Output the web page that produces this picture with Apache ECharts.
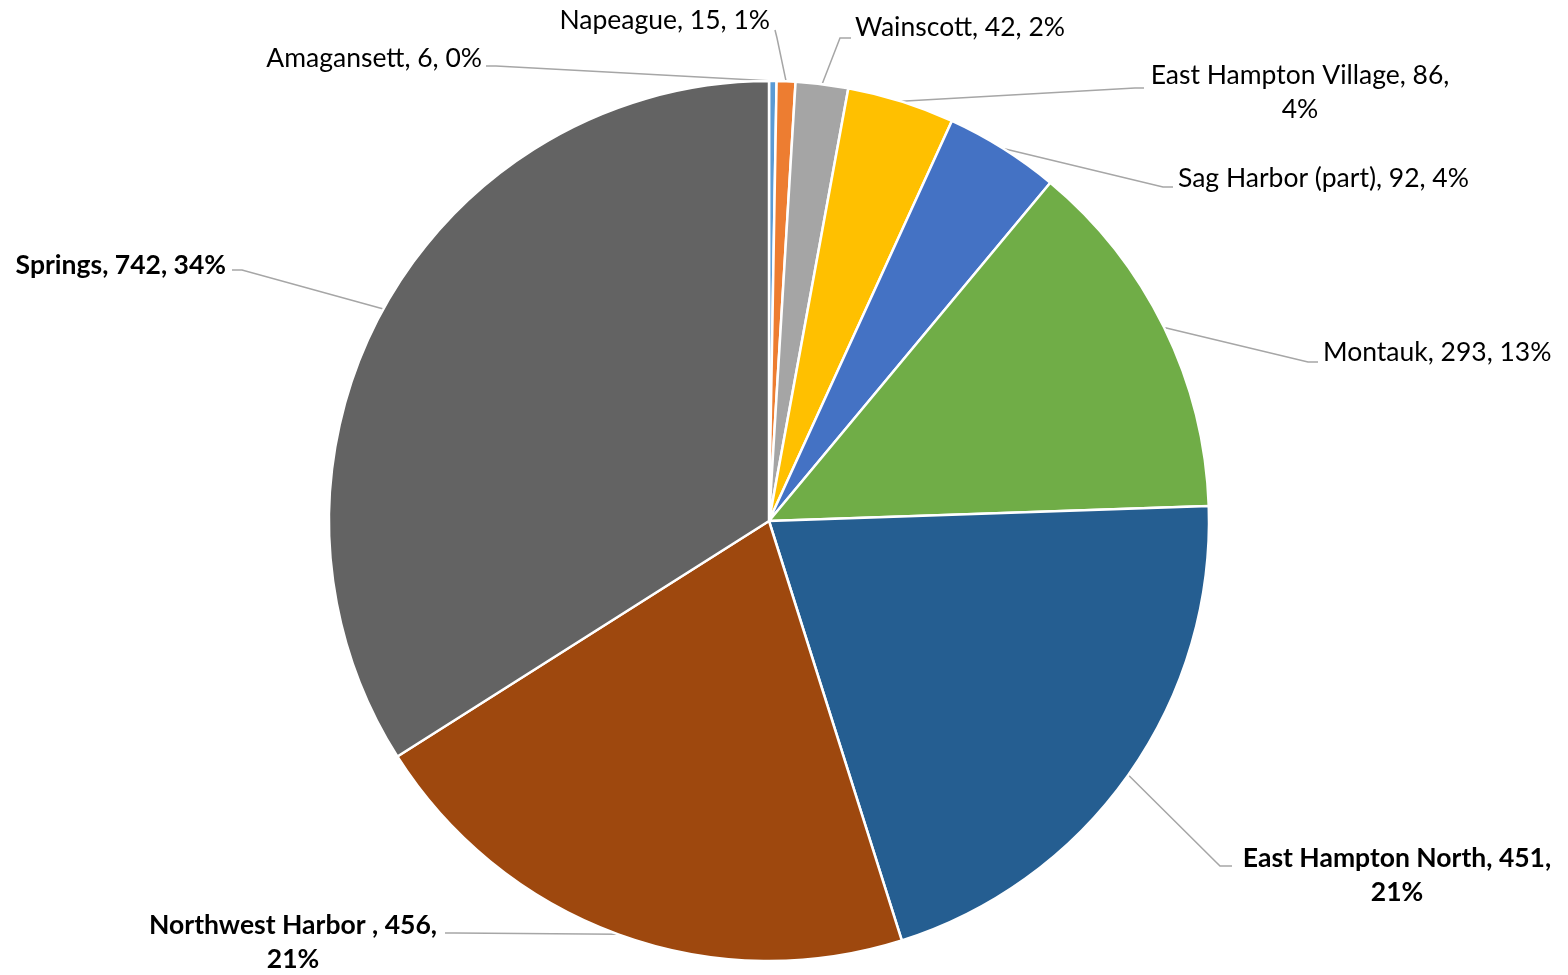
<!DOCTYPE html>
<html>
<head>
<meta charset="utf-8">
<script src="https://cdn.jsdelivr.net/npm/echarts@6/dist/echarts.min.js"></script>
<style>
html,body{margin:0;padding:0;background:#fff;}
#chart{width:1568px;height:975px;}
</style>
</head>
<body>
<div id="chart"></div>
<script>
const categories = ['Amagansett', 'Napeague', 'Wainscott', 'East Hampton Village', 'Sag Harbor (part)', 'Montauk', 'East Hampton North', 'Northwest Harbor ', 'Springs'];
const values = [6, 15, 42, 86, 92, 293, 451, 456, 742];
const colors = ['#5B9BD5', '#ED7D31', '#A5A5A5', '#FFC000', '#4472C4', '#70AD47', '#255E91', '#9E480E', '#636363'];
const boldNames = ['East Hampton North', 'Northwest Harbor ', 'Springs'];
const wrapNames = ['East Hampton Village', 'East Hampton North', 'Northwest Harbor '];

// label placement (layout config, not data)
const labelPlace = {
  'Amagansett':           {x: 482,  y: 58,  align: 'right',  bend: [496, 66],   end: [486, 66]},
  'Napeague':             {x: 770,  y: 20,  align: 'right',  bend: [777, 38],   end: [775, 30]},
  'Wainscott':            {x: 855,  y: 27,  align: 'left',   bend: [840, 38],   end: [851, 38]},
  'East Hampton Village': {x: 1300, y: 92,  align: 'center', bend: [1135, 88],  end: [1144, 88]},
  'Sag Harbor (part)':    {x: 1178, y: 178, align: 'left',   bend: [1163, 187], end: [1173, 187]},
  'Montauk':              {x: 1323, y: 352, align: 'left',   bend: [1308, 362], end: [1318, 362]},
  'East Hampton North':   {x: 1397, y: 875, align: 'center', bend: [1220, 866], end: [1232, 866]},
  'Northwest Harbor ':    {x: 293,  y: 942, align: 'center', bend: [455, 933],  end: [445, 933]},
  'Springs':              {x: 226,  y: 265, align: 'right',  bend: [242, 270],  end: [232, 270]}
};

const total = values.reduce((a, b) => a + b, 0);
const data = categories.map((name, i) => ({
  name: name,
  value: values[i],
  itemStyle: {color: colors[i]},
  label: {fontWeight: boldNames.includes(name) ? 'bold' : 'normal'}
}));

const chart = echarts.init(document.getElementById('chart'));
chart.setOption({
  backgroundColor: '#ffffff',
  animation: false,
  series: [{
    type: 'pie',
    center: [769, 521],
    radius: [0, 440],
    startAngle: 90,
    clockwise: true,
    avoidLabelOverlap: false,
    data: data,
    itemStyle: {borderColor: '#ffffff', borderWidth: 2.5},
    label: {
      show: true,
      position: 'outside',
      fontFamily: 'Lato',
      fontSize: 26.5,
      lineHeight: 34,
      color: '#000000',
      textAlign: 'center',
      formatter: function (p) {
        const pct = Math.round(p.value / total * 100);
        const sep = wrapNames.includes(p.name) ? '\n' : ' ';
        return p.name + ', ' + p.value + ',' + sep + pct + '%';
      }
    },
    labelLine: {
      show: true,
      length: 10,
      length2: 10,
      lineStyle: {color: '#A6A6A6', width: 1.5}
    },
    labelLayout: function (params) {
      const name = categories[params.dataIndex];
      const p = labelPlace[name];
      const start = params.labelLinePoints ? params.labelLinePoints[0] : null;
      const out = {
        x: p.x,
        y: p.y,
        align: p.align,
        verticalAlign: 'middle'
      };
      if (start) out.labelLinePoints = [start, p.bend, p.end];
      return out;
    }
  }]
});
</script>
</body>
</html>
